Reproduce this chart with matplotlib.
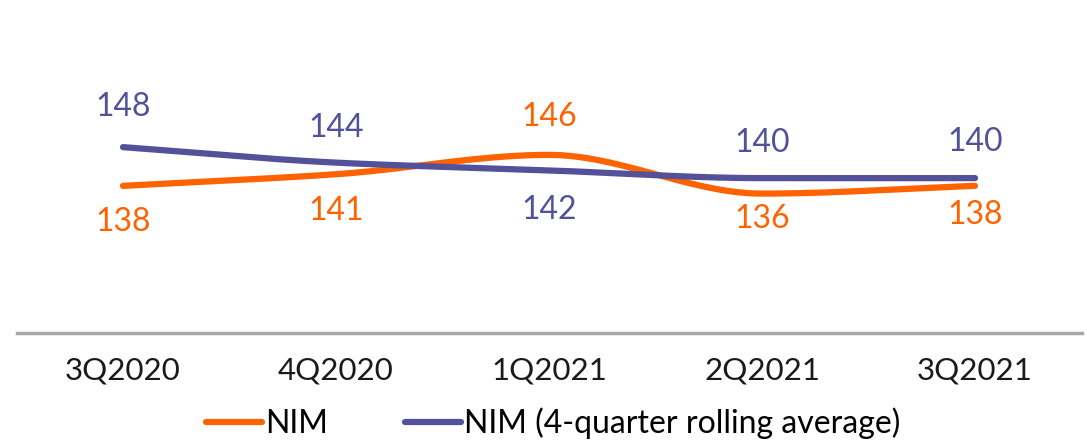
import numpy as np
from matplotlib import pyplot as plt
from matplotlib.lines import Line2D

quarters = ["3Q2020", "4Q2020", "1Q2021", "2Q2021", "3Q2021"]
nim = [138, 141, 146, 136, 138]
nim_avg = [148, 144, 142, 140, 140]

orange = "#FF6200"
purple = "#525199"

# label offsets in pixels (positive = above the line)
nim_off = [-36, -37, 38, -25, -29]
avg_off = [40, 35, -40, 35, 36]

plt.rcParams['font.family'] = ['Lato', 'DejaVu Sans']


def pchip(x, y, n=200):
    # monotone cubic, just for drawing the smooth curve
    x = np.asarray(x, float)
    y = np.asarray(y, float)
    h = np.diff(x)
    d = np.diff(y) / h
    m = np.zeros_like(y)
    for i in range(1, len(y) - 1):
        if d[i - 1] * d[i] > 0:
            w1 = 2 * h[i] + h[i - 1]
            w2 = h[i] + 2 * h[i - 1]
            m[i] = (w1 + w2) / (w1 / d[i - 1] + w2 / d[i])
    m[0] = d[0]
    m[-1] = d[-1]
    xs = np.linspace(x[0], x[-1], n)
    idx = np.clip(np.searchsorted(x, xs) - 1, 0, len(x) - 2)
    t = (xs - x[idx]) / h[idx]
    h00 = 2 * t**3 - 3 * t**2 + 1
    h10 = t**3 - 2 * t**2 + t
    h01 = -2 * t**3 + 3 * t**2
    h11 = t**3 - t**2
    ys = h00 * y[idx] + h10 * h[idx] * m[idx] + h01 * y[idx + 1] + h11 * h[idx] * m[idx + 1]
    return xs, ys


fig = plt.figure(figsize=(10.87, 4.41), dpi=100)
ax = fig.add_axes([16.5 / 1087, 1 - 333 / 441, 1065 / 1087, 333 / 441])

x = np.arange(len(quarters))
for vals, col, offs in [(nim, orange, nim_off), (nim_avg, purple, avg_off)]:
    xs, ys = pchip(x, vals)
    ax.plot(xs, ys, color=col, linewidth=4.5, solid_capstyle='round')
    for xi, v, o in zip(x, vals, offs):
        ax.annotate(str(v), (xi, v), xytext=(0, o), textcoords='offset pixels',
                    ha='center', va='center', color=col, fontsize=23)

ax.set_xlim(-0.5, len(quarters) - 0.5)
ax.set_ylim(100, 186)
ax.set_xticks(x)
ax.set_xticklabels(quarters, fontsize=22.5, color="#1a1a1a")
ax.tick_params(axis='x', length=0, pad=17)
ax.set_yticks([])
for s in ['top', 'left', 'right']:
    ax.spines[s].set_visible(False)
ax.spines['bottom'].set_color('#A8A8A8')
ax.spines['bottom'].set_linewidth(2.5)

handles = [Line2D([], [], color=orange, linewidth=4.5, solid_capstyle='round'),
           Line2D([], [], color=purple, linewidth=4.5, solid_capstyle='round')]
fig.legend(handles, ["NIM", "NIM (4-quarter rolling average)"], loc='center',
           bbox_to_anchor=(0.5 + 10 / 1087, 1 - 423 / 441), ncol=2, frameon=False, fontsize=23,
           handlelength=1.75, handletextpad=0.1, columnspacing=2.4)

fig.savefig("out.png", dpi=100)
